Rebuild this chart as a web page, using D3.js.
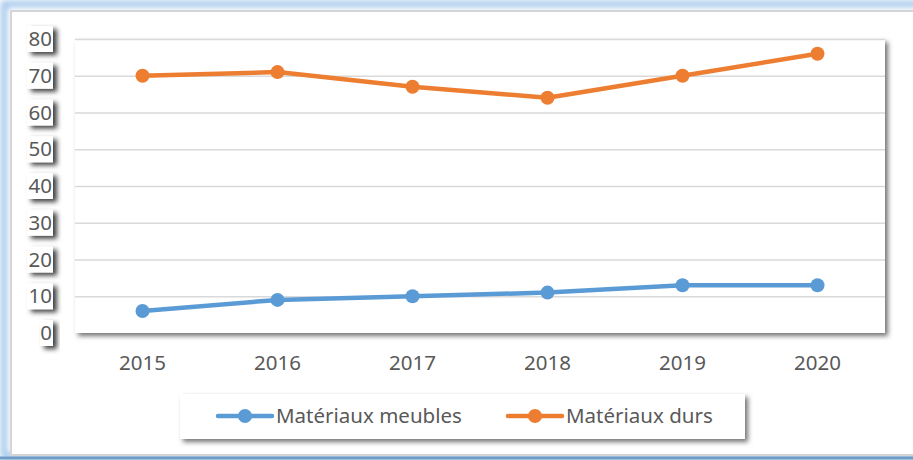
<!DOCTYPE html>
<html>
<head>
<meta charset="utf-8">
<script src="https://cdn.jsdelivr.net/npm/d3@7"></script>
<style>
  body { margin: 0; background: #fff; }
  svg text { font-family: "Noto Sans", "Open Sans", sans-serif; fill: #595959; }
</style>
</head>
<body>
<div class="container"></div>
<script>
const years = ["2015", "2016", "2017", "2018", "2019", "2020"];
const meubles = [6, 9, 10, 11, 13, 13];
const durs = [70, 71, 67, 64, 70, 76];
const yTicks = [0, 10, 20, 30, 40, 50, 60, 70, 80];
const seriesNames = ["Matériaux meubles", "Matériaux durs"];
const colors = ["#5b9bd5", "#ed7d31"];

const w = 913, h = 460;
const plot = {left: 75, right: 885, top: 39, bottom: 333};

const svg = d3.select(".container").append("svg")
  .attr("width", w).attr("height", h);

const defs = svg.append("defs");
defs.append("filter").attr("id", "shadow")
  .attr("x", "-20%").attr("y", "-20%").attr("width", "150%").attr("height", "150%")
  .append("feDropShadow")
  .attr("dx", 3).attr("dy", 3).attr("stdDeviation", 2.5)
  .attr("flood-color", "#000").attr("flood-opacity", 0.55);
defs.append("filter").attr("id", "lblshadow")
  .attr("x", "-30%").attr("y", "-30%").attr("width", "180%").attr("height", "170%")
  .append("feDropShadow")
  .attr("dx", 4).attr("dy", 3).attr("stdDeviation", 2.5)
  .attr("flood-color", "#000").attr("flood-opacity", 0.75);
defs.append("filter").attr("id", "glow")
  .attr("x", "-5%").attr("y", "-5%").attr("width", "110%").attr("height", "110%")
  .append("feGaussianBlur").attr("stdDeviation", 3);

// outer frame
svg.append("rect").attr("x", 4).attr("y", 4).attr("width", w + 20).attr("height", 452)
  .attr("fill", "none").attr("stroke", "#9cc3ea").attr("stroke-width", 6).attr("filter", "url(#glow)");
svg.append("rect").attr("x", 11).attr("y", 11).attr("width", w + 20).attr("height", 444)
  .attr("fill", "#fff").attr("stroke", "#d4d4d4").attr("stroke-width", 2);
svg.append("line").attr("x1", 0).attr("x2", w).attr("y1", 458).attr("y2", 458)
  .attr("stroke", "#6f9bc8").attr("stroke-width", 3);

const xScale = d3.scalePoint().domain(years)
  .range([plot.left, plot.right]).padding(0.5);
const yScale = d3.scaleLinear().domain([0, 80])
  .range([plot.bottom, plot.top]);

// plot area
svg.append("rect")
  .attr("x", plot.left).attr("y", plot.top)
  .attr("width", plot.right - plot.left).attr("height", plot.bottom - plot.top)
  .attr("fill", "#fff").attr("filter", "url(#shadow)");

// gridlines
const yAxis = d3.axisLeft(yScale).tickValues(yTicks)
  .tickSize(-(plot.right - plot.left)).tickFormat("");
svg.append("g").attr("transform", "translate(" + plot.left + ",0)")
  .call(yAxis)
  .call(g => g.select(".domain").remove())
  .call(g => g.selectAll(".tick line").attr("stroke", "#d9d9d9").attr("stroke-width", 1.5))
  .call(g => g.selectAll(".tick").filter(d => d === 0).remove());

// y labels in little boxes
const yl = svg.append("g").selectAll("g").data(yTicks).enter().append("g")
  .attr("transform", d => "translate(53," + yScale(d) + ")");
yl.append("rect")
  .attr("x", d => d === 0 ? -13 : -26).attr("y", -13)
  .attr("width", d => d === 0 ? 13 : 26).attr("height", 26)
  .attr("fill", "#fff").attr("filter", "url(#lblshadow)");
yl.append("text").attr("text-anchor", "end").attr("dy", "0.35em")
  .attr("x", -1)
  .style("font-size", "20.5px").text(d => d);

// x labels
svg.append("g").selectAll("text").data(years).enter().append("text")
  .attr("x", d => xScale(d)).attr("y", 363).attr("dy", "0.35em")
  .attr("text-anchor", "middle").style("font-size", "20.5px").text(d => d);

// lines
const line = d3.line().x((d, i) => xScale(years[i])).y(d => yScale(d));
[meubles, durs].forEach((vals, k) => {
  svg.append("path").datum(vals).attr("d", line)
    .attr("fill", "none").attr("stroke", colors[k]).attr("stroke-width", 4.5)
    .attr("stroke-linejoin", "round").attr("stroke-linecap", "round");
  svg.append("g").selectAll("circle").data(vals).enter().append("circle")
    .attr("cx", (d, i) => xScale(years[i])).attr("cy", d => yScale(d))
    .attr("r", 7).attr("fill", colors[k]);
});

// legend
svg.append("rect").attr("x", 180).attr("y", 394).attr("width", 565).attr("height", 45)
  .attr("fill", "#fff").attr("filter", "url(#shadow)");
const legX = [218, 508];
const lg = svg.append("g").selectAll("g").data(seriesNames).enter().append("g")
  .attr("transform", (d, i) => "translate(" + legX[i] + ",416)");
lg.append("line").attr("x1", 0).attr("x2", 54)
  .attr("stroke", (d, i) => colors[i]).attr("stroke-width", 4.5).attr("stroke-linecap", "round");
lg.append("circle").attr("cx", 27).attr("r", 7).attr("fill", (d, i) => colors[i]);
lg.append("text").attr("x", 58).attr("dy", "0.35em")
  .style("font-size", "20.5px").text(d => d);
</script>
</body>
</html>
